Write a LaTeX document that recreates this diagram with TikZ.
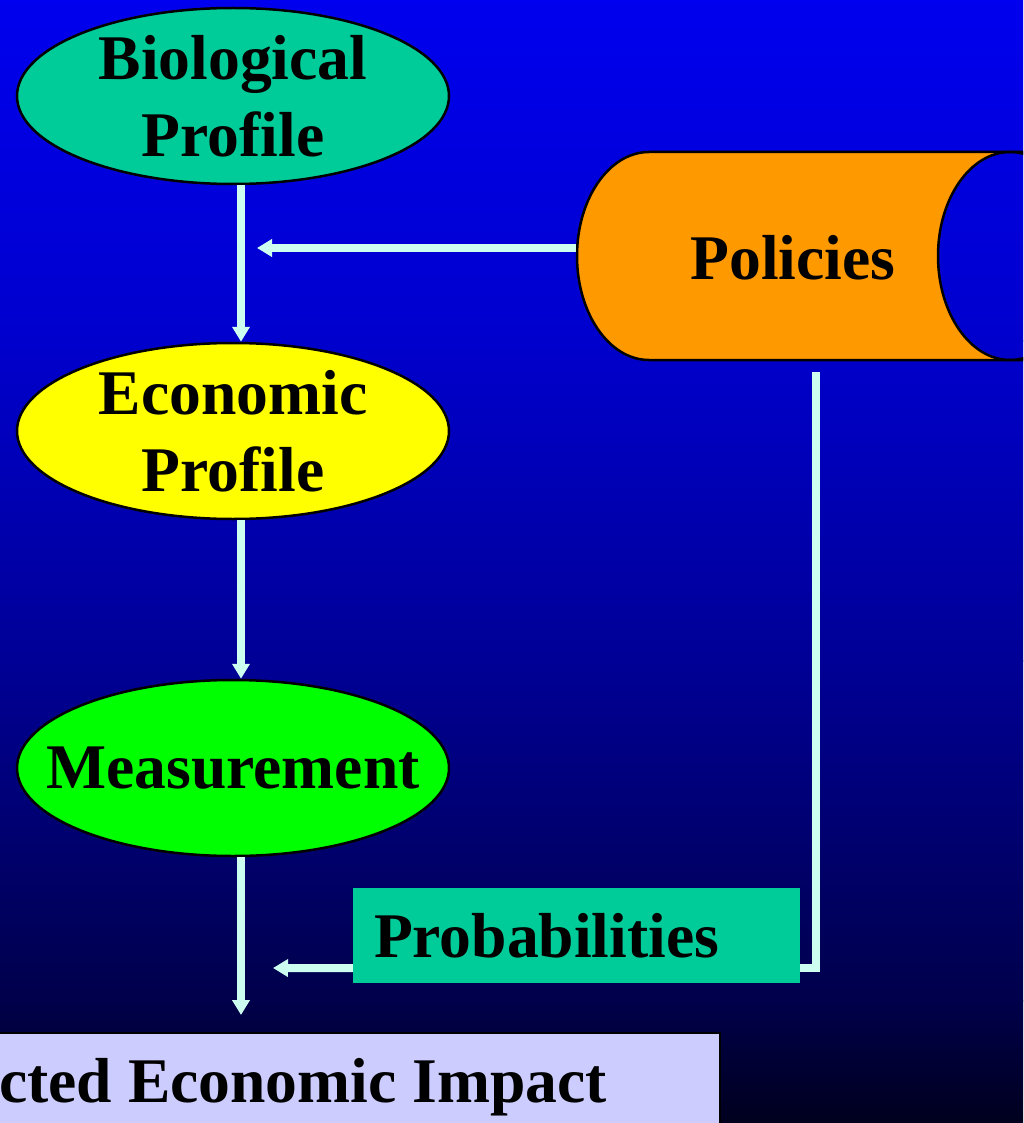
\documentclass[tikz,border=0pt]{standalone}
\usepackage{fontspec}
\setmainfont{Liberation Serif}
\usetikzlibrary{arrows.meta,shapes.geometric}

\definecolor{bioteal}{RGB}{0,204,153}
\definecolor{ecoyellow}{RGB}{255,255,0}
\definecolor{measgreen}{RGB}{0,255,0}
\definecolor{polorange}{RGB}{255,153,0}
\definecolor{lavender}{RGB}{204,204,255}
\definecolor{flowcyan}{RGB}{204,255,240}
\definecolor{bgA}{RGB}{0,0,238}
\definecolor{bgB}{RGB}{0,0,205}
\definecolor{bgC}{RGB}{0,0,150}
\definecolor{bgD}{RGB}{0,0,75}
\definecolor{bgE}{RGB}{0,0,30}

\begin{document}
\begin{tikzpicture}[x=1pt,y=-1pt,
  every node/.style={font=\fontsize{63.6}{77}\selectfont\bfseries},
  oval/.style={ellipse, draw=black, line width=2.5pt, minimum width=432pt,
    minimum height=176pt, inner sep=0pt, align=center},
  flow/.style={draw=flowcyan, line width=8pt, -{Triangle[length=15pt,width=17pt]}},
  link/.style={draw=flowcyan, line width=8pt}]

\useasboundingbox (0,0) rectangle (1023,1123);
\clip (0,0) rectangle (1023,1123);

% background: blue fading to near black
\fill[top color=bgA, bottom color=bgB] (0,0) rectangle (1023,341);
\fill[top color=bgB, bottom color=bgC] (0,340) rectangle (1023,661);
\fill[top color=bgC, bottom color=bgD] (0,660) rectangle (1023,1001);
\fill[top color=bgD, bottom color=bgE] (0,1000) rectangle (1023,1123);

% policies drum, lying on its side with the open end to the right
\fill[polorange] (1010,152) -- (649,152)
  arc[start angle=90, end angle=270, x radius=72pt, y radius=104pt]
  -- (1010,360)
  arc[start angle=270, end angle=90, x radius=72pt, y radius=104pt] -- cycle;
\draw[line width=2.5pt] (1030,152) -- (649,152)
  arc[start angle=90, end angle=270, x radius=72pt, y radius=104pt]
  -- (1030,360);
\draw[line width=2.5pt] (1010,256) ellipse [x radius=72pt, y radius=104pt];

% nodes
\node[oval, fill=bioteal] (bio) at (233,96) {Biological\\Profile};
\node[oval, fill=ecoyellow] (eco) at (233,431) {Economic\\Profile};
\node[oval, fill=measgreen] (meas) at (233,768) {\makebox[0pt]{Measurement}};
\node[minimum width=433pt, minimum height=208pt, inner sep=0pt] (pol)
  at (793,258) {Policies};
\node[fill=bioteal, minimum height=95pt, text width=405pt, inner xsep=21pt,
  inner ysep=0pt, align=left] (prob) at (576.5,935.5) {Probabilities};
\node[fill=lavender, draw=black, line width=2pt, minimum width=972pt,
  minimum height=109pt, inner sep=0pt] (impact) at (234,1087.5)
  {Expected Economic Impact};

% free ends of the side connectors
\coordinate (policytip) at (257,248);
\coordinate (polout) at (816,372);
\coordinate (probtip) at (273,968);

% connectors
\draw[flow] ([xshift=8pt]bio.south) -- ([xshift=8pt]eco.north);
\draw[flow] ([xshift=8pt]eco.south) -- ([xshift=8pt]meas.north);
\draw[flow] ([xshift=8pt]meas.south)
  -- ([xshift=8pt,yshift=17pt]meas.south |- impact.north);
\draw[flow] ([yshift=10pt]pol.west) -- (policytip);
\draw[link] (polout) |- ([yshift=15pt]prob.south east);
\draw[flow] ([yshift=15pt]prob.south west) -- (probtip);
\end{tikzpicture}
\end{document}
